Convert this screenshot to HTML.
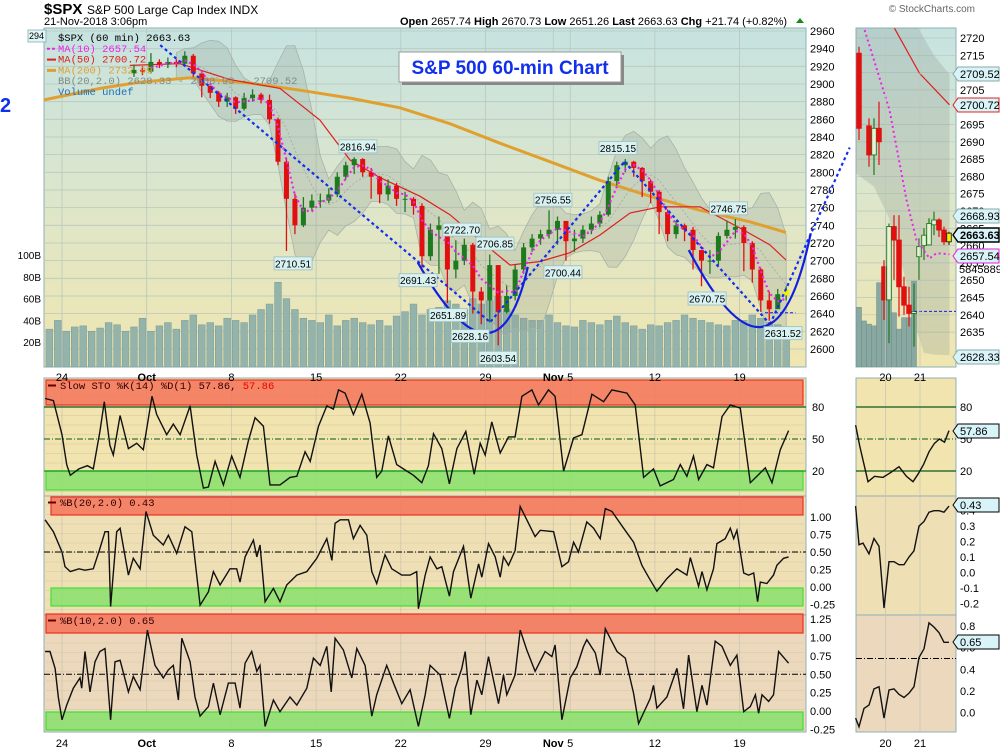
<!DOCTYPE html>
<html><head><meta charset="utf-8"><style>
html,body{margin:0;padding:0;background:#fff;}
svg{display:block;font-family:"Liberation Sans",sans-serif;}
.mono{font-family:"Liberation Mono",monospace;}
</style></head><body>
<svg id="chart" width="1000" height="750" viewBox="0 0 1000 750" xmlns="http://www.w3.org/2000/svg">
<defs>
<linearGradient id="gMain" x1="0" y1="0" x2="0" y2="1"><stop offset="0" stop-color="#c6e3e1"/><stop offset="0.55" stop-color="#dfe6c8"/><stop offset="1" stop-color="#f0e6b0"/></linearGradient>
</defs>
<g id="root"></g>
</svg>
<script>
// ---------- data ----------
const closes=[2916,2914,2925,2922,2925,2923,2932,2912,2898,2890,2880,2885,2872,2884,2888,2882,2860,2812,2770,2740,2760,2768,2768,2775,2795,2808,2815,2800,2795,2775,2785,2770,2770,2762,2705,2735,2740,2690,2700,2718,2665,2655,2695,2642,2660,2690,2715,2725,2730,2735,2745,2722,2725,2735,2742,2752,2790,2808,2812,2805,2790,2778,2755,2730,2740,2735,2712,2700,2700,2728,2735,2738,2720,2690,2655,2645,2662,2664];
const highs=[2922,2920,2935,2928,2930,2928,2937,2934,2912,2898,2892,2890,2886,2890,2894,2890,2888,2862,2815,2776,2772,2775,2776,2782,2800,2812,2817,2816,2805,2796,2792,2788,2778,2772,2765,2742,2750,2742,2723,2725,2720,2670,2707,2695,2672,2695,2720,2730,2735,2757,2750,2740,2735,2740,2750,2756,2795,2812,2815,2813,2806,2792,2780,2758,2745,2742,2738,2712,2712,2732,2745,2747,2740,2722,2692,2665,2668,2671];
const lows=[2908,2910,2912,2918,2918,2919,2922,2908,2885,2884,2874,2874,2866,2870,2880,2878,2855,2808,2711,2730,2738,2756,2760,2765,2772,2792,2798,2795,2770,2765,2768,2762,2755,2752,2692,2700,2685,2652,2680,2695,2640,2628,2630,2604,2640,2655,2685,2710,2718,2725,2718,2700,2710,2720,2730,2738,2750,2785,2800,2795,2772,2765,2730,2722,2725,2722,2690,2671,2685,2695,2725,2725,2688,2675,2642,2632,2651,2655];
const firstOpen=2912;
const candleStartDay=4;
const volumes=[32,40,30,34,35,30,33,38,36,30,34,42,30,35,38,32,40,45,36,38,35,42,40,38,45,50,55,75,60,50,42,40,38,45,35,40,42,38,36,40,35,44,48,55,45,50,52,58,55,50,60,55,58,62,50,45,42,40,40,45,38,35,34,40,38,36,40,44,38,35,32,36,35,38,40,45,42,40,38,36,35,40,40,45,42,38,36,34];
const volStartDay=-1;
const ma200Days=[-1.06,2.25,4.6,7.56,11.1,14.05,17.0,19.95,22.9,25.85,28.8,31.75,34.7,37.66,40.61,42.74];
const ma200Vals=[2882,2895,2902,2907,2901,2893,2884,2873,2855,2833,2812,2791,2773,2757,2744,2732];
const ma50Days=[4.01,6.97,9.92,12.87,15.23,17.0,18.77,21.13,22.9,24.67,26.45,28.22,29.99,31.76,33.53,35.3,37.66,40.02,41.79,42.74];
const ma50Vals=[2921,2923,2905,2895,2859,2814,2794,2773,2752,2723,2695,2699,2709,2729,2754,2761,2761,2737,2718,2700.7];
const trendLines=[[5.8,2944,25.3,2630],[25.3,2631,33.2,2812],[33.2,2812,41.8,2628],[41.8,2628,46.5,2828]];
const arcs=[[21.0,2698,24.97,2618,27.5,2693],[37.0,2712,41.3,2625,44.2,2731]];
const annoText=["2816.94","2710.51","2691.43","2651.89","2628.16","2603.54","2722.70","2706.85","2756.55","2700.44","2815.15","2746.75","2670.75","2631.52"];
const annoDay=[17.47,13.64,21.02,22.79,24.09,25.74,23.61,25.56,28.98,29.57,32.82,39.35,38.08,42.56];
const annoHigh=[1,0,0,0,0,0,1,1,1,0,1,1,0,0];
const priceTicks=[2960,2940,2920,2900,2880,2860,2840,2820,2800,2780,2760,2740,2720,2700,2680,2660,2640,2620,2600];
const volTicks=[100,80,60,40,20];
const dateDays=[0,5,10,15,20,25,29,30,35,40];
const dateText=["24","Oct","8","15","22","29","Nov","5","12","19"];
// oscillators
const stoDays=[-1.0,-0.51,0,0.28,0.49,1.0,1.5,1.85,2.24,2.5,2.83,3.03,3.43,3.92,4.41,4.8,5.31,5.59,6.18,6.57,6.97,7.56,7.95,8.35,8.64,9.04,9.53,10.02,10.51,11.0,11.4,11.89,12.28,12.87,13.46,13.86,14.35,14.65,15.14,15.63,16.02,16.32,16.71,17.2,17.7,18.19,18.58,18.88,19.27,19.76,20.35,20.75,21.24,21.63,21.93,22.42,22.87,23.31,23.84,24.33,24.69,24.98,25.37,25.87,26.36,26.75,27.15,27.74,28.13,28.72,29.11,29.61,30.2,30.69,31.28,31.97,32.46,33.35,33.84,34.33,34.92,35.31,36.1,36.5,36.89,37.28,37.58,38.07,38.46,38.96,39.45,40.04,40.63,41.02,41.52,41.91,42.4,42.89];
const stoVals=[88,86,54,26,16,22,25,22,57,85,44,35,72,41,46,40,90,73,54,64,54,81,35,4,5,29,7,34,14,48,70,62,7,7,14,15,38,29,62,81,78,96,93,73,92,65,14,20,53,26,20,16,9,25,55,41,8,41,57,17,46,35,66,37,52,52,90,96,82,96,90,20,51,54,92,85,96,93,82,14,22,6,12,26,15,34,12,26,23,71,82,79,9,15,23,9,40,57.86];
const pb20Days=[-1.0,-0.51,0,0.18,0.49,1.0,1.36,1.85,2.24,2.54,2.74,2.87,3.23,3.43,3.92,4.21,4.61,4.96,5.39,5.98,6.28,6.77,7.26,7.66,7.95,8.15,8.64,8.94,9.33,9.92,10.31,10.51,10.81,11.3,11.5,11.69,11.99,12.48,12.87,13.27,13.86,14.45,15.04,15.63,15.93,16.12,16.42,16.91,17.2,17.6,17.99,18.29,18.58,19.07,19.47,20.06,20.55,20.94,21.04,21.44,21.73,22.13,22.42,22.87,23.11,23.7,24.13,24.59,24.78,25.18,25.57,25.87,26.06,26.36,26.75,27.05,27.44,27.93,28.23,29.02,29.51,29.9,30.2,30.49,30.98,31.38,31.77,32.07,32.46,33.15,33.74,34.23,34.63,35.12,35.71,36.3,36.89,37.09,37.58,37.78,38.07,38.46,38.66,39.15,39.45,39.65,39.84,40.24,40.53,40.83,41.06,41.22,41.61,42.0,42.2,42.6,42.89];
const pb20Vals=[0.96,0.79,0.50,0.29,0.22,0.26,0.24,0.26,0.55,0.79,0.79,-0.28,0.79,0.84,0.17,0.41,0.26,1.08,0.74,0.60,0.74,0.48,0.86,0.79,0.17,-0.26,-0.07,0.22,0.03,0.26,0.26,0.07,0.43,0.67,0.43,0.60,-0.21,-0.02,-0.21,0.03,0.17,0.22,0.41,0.69,0.38,0.91,0.96,0.96,0.69,0.88,0.74,0.22,0.05,0.46,0.26,0.17,0.17,0.22,-0.31,0.17,0.43,0.26,0.29,-0.13,0.22,0.58,-0.16,0.33,0.14,0.62,0.43,0.14,0.43,0.31,0.52,1.15,0.96,0.72,0.81,0.79,0.29,0.36,0.64,0.50,0.93,0.84,0.69,1.12,1.08,0.84,0.64,0.31,0.14,-0.06,0.12,0.26,0.17,0.42,0.01,0.22,-0.04,0.26,0.62,0.69,0.84,0.69,0.81,0.20,0.17,0.20,-0.21,0.07,0.05,0.17,0.31,0.41,0.43];
const pb10Days=[-1.0,-0.71,-0.41,-0.22,0,0.28,0.67,1.06,1.16,1.36,1.65,1.95,2.24,2.54,2.87,3.13,3.43,3.92,4.21,4.61,5.04,5.49,5.98,6.28,6.57,6.87,7.07,7.56,7.85,8.15,8.64,8.94,9.33,9.82,10.22,10.51,10.81,11.2,11.5,11.69,11.99,12.48,12.87,13.46,13.86,14.45,14.84,15.24,15.63,15.89,16.12,16.61,17.11,17.4,17.89,18.29,18.58,19.17,19.57,20.06,20.55,21.04,21.44,21.73,22.32,22.87,23.21,23.6,23.8,24.13,24.49,24.78,25.18,25.77,26.06,26.26,26.75,27.05,27.44,27.93,28.52,28.92,29.11,29.51,30.0,30.39,30.79,30.98,31.48,31.77,32.07,32.76,33.25,33.74,34.04,34.72,34.92,35.12,35.71,36.3,36.69,36.99,37.48,37.78,38.07,38.56,38.96,39.45,39.84,40.24,40.63,40.93,41.12,41.32,41.71,42.0,42.3,42.89];
const pb10Vals=[0.81,0.81,0.58,0.19,-0.12,0.08,0.31,0.45,0.31,0.81,0.26,0.67,0.81,0.85,-0.12,0.67,0.69,0.26,0.47,0.29,1.10,0.62,0.45,0.56,0.62,0.15,0.99,0.67,0.19,-0.07,0.06,0.38,-0.05,0.38,0.38,0.04,0.65,0.81,0.54,0.62,-0.21,0.15,-0.01,0.19,0.08,0.31,0.72,0.62,0.88,0.26,0.99,0.83,0.45,0.85,0.62,-0.07,0.22,0.62,0.38,0.10,0.29,-0.21,0.22,0.62,0.49,-0.10,0.31,0.58,0.81,-0.05,0.42,0.22,0.74,0.10,0.49,0.22,0.49,1.10,0.83,0.54,0.81,0.74,0.90,-0.12,0.45,0.60,0.88,0.97,0.79,0.49,1.12,0.81,0.72,0.24,-0.17,0.17,0.35,0.04,0.19,0.58,0.03,0.76,-0.01,0.35,0.08,0.95,0.88,0.62,0.76,-0.01,0.06,0.22,-0.03,0.22,0.13,0.22,0.81,0.65];
const stoTicks=[80,50,20];
const pb20Ticks=[1.00,0.75,0.50,0.25,0.00,-0.25];
const pb10Ticks=[1.25,1.00,0.75,0.50,0.25,0.00,-0.25];
// inset (zoomed last sessions)
const inIdx=[0,2,3,4,5,6,7,8,9,10,11,12,13,14,15,16,17,18];
const inOpen=[2715.6,2694.6,2686.2,2693.9,2653.9,2644.3,2665.5,2661.6,2648.1,2642.8,2640.4,2656.8,2660.0,2660.2,2666.0,2667.4,2664.5,2661.1];
const inClose=[2693.9,2686.2,2693.9,2690.0,2644.3,2665.5,2661.6,2648.1,2642.8,2640.4,2641.0,2659.7,2663.0,2666.4,2667.4,2664.5,2661.1,2663.6];
const inHigh=[2717.5,2696.8,2696.8,2701.6,2655.8,2666.4,2668.8,2668.8,2651.0,2648.1,2649.1,2662.1,2665.0,2667.9,2669.8,2667.9,2665.5,2664.0];
const inLow=[2690.5,2682.8,2680.4,2683.3,2638.5,2631.8,2650.1,2639.5,2640.0,2636.6,2630.8,2650.1,2655.8,2660.2,2663.0,2662.5,2660.2,2660.2];
const inVol=[52,39.5,36.6,35,74.6,76,73,47,32,42.5,42.5,76];
const inMa10Idx=[1.13,6.1,9.5,11.5,14.1,15.5,18.1];
const inMa10Val=[2722.3,2699.2,2673.2,2661.6,2656.3,2657.8,2657.5];
const inMa50Idx=[7.1,12.1,18.1];
const inMa50Val=[2722.8,2709.8,2700.7];
const inBBIdx=[-0.7,3,6,9,11,13,15,18.1];
const inBBUp=[2730,2729,2728,2727,2725,2720,2715,2709.5];
const inBBLo=[2681,2677,2668,2652,2638,2629,2628.5,2628.3];
const inTicks=[2720,2715,2710,2705,2700,2695,2690,2685,2680,2675,2670,2665,2660,2655,2650,2645,2640,2635];
const inStoIdx=[-0.67,0.13,1.8,3.13,4.8,6.47,8,9.47,10.8,11.8,12.9,14,15.1,16.1,17.1,18];
const inStoVal=[63,44,10,15,14,19,24,15,10,17,26,38,46,50,47,57.86];
const inPb20Idx=[-0.67,0,0.8,2,3,4,5,6,7,8,9,10,11,12,13,14,15,16,17,18];
const inPb20Val=[0.43,0.18,0.19,0.12,0.22,0.17,-0.23,0.07,0.07,0.05,0.05,0.10,0.14,0.30,0.33,0.39,0.40,0.40,0.39,0.43];
const inPb10Idx=[-0.67,0,1,2,3,4,5,6,7,8,9,10,11,12,13,14,15,16,17,18];
const inPb10Val=[-0.05,-0.13,0.04,0.07,0.22,0.24,-0.05,0.21,0.22,0.17,0.14,0.18,0.24,0.51,0.59,0.83,0.79,0.74,0.65,0.65];
const inPb20Ticks=[0.4,0.3,0.2,0.1,0.0,-0.1,-0.2];
const inPb10Ticks=[0.8,0.6,0.4,0.2,0.0];

// ---------- scales ----------
const NS="http://www.w3.org/2000/svg";
const root=document.getElementById('root');
const MX0=44,MX1=806,MY0=28,MY1=367;
const IX0=856,IX1=956;
const xD=t=>62+t*16.94;
const yP=p=>31+(2960-p)*0.8833;
const yV=v=>364-v*1.09;
const ySto=v=>407+(80-v)*1.0667;
const yB20=v=>587-v*70;
const yB10=v=>711-v*73.5;
const xI=i=>859+i*5;
const yIP=p=>38+(2720-p)*3.46;
const yIB20=v=>510.7+(0.4-v)*154.4;
const yIB10=v=>712.7-v*108.3;

function el(tag,attrs,parent){const e=document.createElementNS(NS,tag);for(const k in attrs)e.setAttribute(k,attrs[k]);(parent||root).appendChild(e);return e;}
function txt(x,y,s,attrs,parent){const e=el('text',Object.assign({x:x,y:y},attrs||{}),parent);e.textContent=s;return e;}
function poly(xs,ys,attrs,parent){let d='';for(let i=0;i<xs.length;i++)d+=(i?'L':'M')+xs[i].toFixed(1)+' '+ys[i].toFixed(1);return el('path',Object.assign({d:d,fill:'none'},attrs),parent);}

// ---------- header ----------
let g=el('g',{});


let t=txt(44,14,'$SPX',{'font-size':'15','font-weight':'bold'},g);

t=txt(87,14,'S&P 500 Large Cap Index  INDX',{'font-size':'12'},g);

t=txt(44,25,'21-Nov-2018 3:06pm',{'font-size':'11'},g);

t=txt(975,12,'© StockCharts.com',{'font-size':'10','fill':'#666','text-anchor':'end'},g);

t=el('text',{x:400,y:25,'font-size':'11'},g);

t.innerHTML='<tspan font-weight="bold">Open</tspan> 2657.74 <tspan font-weight="bold">High</tspan> 2670.73 <tspan font-weight="bold">Low</tspan> 2651.26 <tspan font-weight="bold">Last</tspan> 2663.63 <tspan font-weight="bold">Chg</tspan> +21.74 (+0.82%)';
el('path',{d:'M796 23 L800 18 L804 23 Z',fill:'#1a8a1a'},g);

// ---------- main panel ----------
const main=el('g',{});


el('rect',{x:MX0,y:MY0,width:MX1-MX0,height:MY1-MY0,fill:'url(#gMain)',stroke:'#8fb0b8'},main);
priceTicks.forEach(p=>{el('line',{x1:MX0,x2:MX1,y1:yP(p),y2:yP(p),stroke:'#b9c7bd','stroke-width':0.8},main);
 const tk=txt(810,yP(p)+4,String(p),{'font-size':'11'},main);
 });
dateDays.forEach(d=>el('line',{x1:xD(d),x2:xD(d),y1:MY0,y2:MY1,stroke:'#b9c7bd','stroke-width':0.8},main));
volTicks.forEach(v=>{const tk=txt(41,yV(v)+4,v+'B',{'font-size':'10','text-anchor':'end'});
 });
// volume
volumes.forEach((v,i)=>{const x=xD(volStartDay+i*0.5+0.25);
 const b=el('rect',{x:x-3.4,y:yV(v),width:6.8,height:MY1-yV(v),fill:'#93b3ab',stroke:'#7a9c94','stroke-width':0.5},main);
 });
// bollinger from closes
const bbT=[],bbU=[],bbL=[],bbM=[];
for(let i=5;i<closes.length;i++){const w=closes.slice(i-5,i+1);const m=w.reduce((a,b)=>a+b,0)/6;const s=Math.sqrt(w.reduce((a,b)=>a+(b-m)*(b-m),0)/6);
 bbT.push(candleStartDay+i*0.5+0.25);bbU.push(m+2*s+6);bbL.push(m-2*s-6);bbM.push(m);}
let dd='';bbT.forEach((tt,i)=>dd+=(i?'L':'M')+xD(tt).toFixed(1)+' '+yP(bbU[i]).toFixed(1));
for(let i=bbT.length-1;i>=0;i--)dd+='L'+xD(bbT[i]).toFixed(1)+' '+yP(bbL[i]).toFixed(1);
let bb=el('path',{d:dd+'Z',fill:'#8c9c94','fill-opacity':0.25,stroke:'#a8b2aa','stroke-width':0.8},main);

poly(bbT.map(xD),bbM.map(yP),{stroke:'#a0a8a0','stroke-width':0.8,'stroke-dasharray':'2 2'},main);
// ma200, ma50
let m2=poly(ma200Days.map(xD),ma200Vals.map(yP),{stroke:'#e0a030','stroke-width':3},main);

let m5=poly(ma50Days.map(xD),ma50Vals.map(yP),{stroke:'#dd2020','stroke-width':1.2},main);

// candles
closes.forEach((c,i)=>{const o=i?closes[i-1]:firstOpen;const x=xD(candleStartDay+i*0.5+0.25);const up=c>=o;const col=up?'#1e7a1e':'#e01010';
 const hi=highs[i]!==undefined?highs[i]:Math.max(o,c),lo=lows[i]!==undefined?lows[i]:Math.min(o,c);
 const cg=el('g',{},main);
 
 el('line',{x1:x,x2:x,y1:yP(hi),y2:yP(lo),stroke:col,'stroke-width':1.3},cg);
 const y1=yP(Math.max(o,c)),y2=yP(Math.min(o,c));
 el('rect',{x:x-2.5,y:y1,width:5,height:Math.max(1,y2-y1),fill:col},cg);});
// ma10 from closes (3 half-day window)
const maT=[],maV=[];for(let i=2;i<closes.length;i++){maT.push(candleStartDay+i*0.5+0.25);maV.push((closes[i]+closes[i-1]+closes[i-2])/3);}
let m1=poly(maT.map(xD),maV.map(yP),{stroke:'#ee22ee','stroke-width':2.2,'stroke-dasharray':'2 3'},main);

// trend lines
trendLines.forEach(l=>{const tl=el('line',{x1:xD(l[0]),y1:yP(l[1]),x2:xD(l[2]),y2:yP(l[3]),stroke:'#1030ee','stroke-width':2.2,'stroke-dasharray':'3 3'});
 });
arcs.forEach(a=>{const x0=xD(a[0]),y0=yP(a[1]),xm=xD(a[2]),ym=yP(a[3]),x2=xD(a[4]),y2=yP(a[5]);
 const cx=2*xm-(x0+x2)/2,cy=2*ym-(y0+y2)/2;
 const ap=el('path',{d:`M${x0} ${y0} Q${cx} ${cy} ${x2} ${y2}`,fill:'none',stroke:'#1020e0','stroke-width':2.2});
 });
el('line',{x1:xD(41.5),x2:xD(43.3),y1:yP(2641),y2:yP(2641),stroke:'#1020e0','stroke-width':1,'stroke-dasharray':'3 2'},main);
// annotations
annoText.forEach((s,i)=>{const p=parseFloat(s);const x=xD(annoDay[i]);const y=annoHigh[i]?yP(p)-11:yP(p)+12;
 const ag=el('g',{});
 el('rect',{x:x-19,y:y-6.5,width:38,height:13,fill:'#d8f2f2',stroke:'#9cbcc0','stroke-width':0.8},ag);
 txt(x,y+4,s,{'font-size':'10','text-anchor':'middle'},ag);});
// last price marker
el('rect',{x:xD(42.75)-3,y:yP(2664)-3,width:6,height:6,fill:'#f4f000'},main);
// legend
const lg=el('g',{class:'mono','font-size':'10.5'});

const legItems=[['$SPX (60 min) 2663.63','#000',null],['MA(10) 2657.54','#ee22ee','dash'],['MA(50) 2700.72','#dd2020','solid'],['MA(200) 2732.09','#e0a030','thick'],['BB(20,2.0) 2628.33 - 2668.93 - 2709.52','#7f8c88',null],['Volume undef','#1a70c0',null]];
legItems.forEach((it,i)=>{const y=38+i*10.8;
 const le=txt(58,y+3,it[0],{fill:it[1]},lg);
 if(it[2])el('line',{x1:47,x2:56,y1:y,y2:y,stroke:it[1],'stroke-width':it[2]=='thick'?3:2,'stroke-dasharray':it[2]=='dash'?'3 2':'none'},lg);});
el('rect',{x:28,y:30,width:18,height:12,fill:'#e0f6f6',stroke:'#8aaab0','stroke-width':0.8});
txt(29,39,'294',{'font-size':'9'});
t=txt(0,112,'2',{'font-size':'20','font-weight':'bold',fill:'#1030ee'});

// title box
const tb=el('g',{});
el('rect',{x:402,y:55,width:222,height:30,fill:'#888'},tb);
el('rect',{x:399,y:52,width:222,height:30,fill:'#fff',stroke:'#999'},tb);
txt(510,74,'S&P 500 60-min Chart',{'font-size':'19','font-weight':'bold',fill:'#1030ee','text-anchor':'middle'},tb);

// ---------- oscillator panels ----------
const panels=[
 {y0:378,y1:496,bg:'#f1e4ae',red:[380,405],green:[471,490],gx:46,name:'slow-sto-panel'},
 {y0:496,y1:615,bg:'#efdfb5',red:[497,515],green:[588,606],gx:51,name:'pctb20-panel'},
 {y0:615,y1:732,bg:'#ecd8bc',red:[614,633],green:[712,730],gx:46,name:'pctb10-panel'}];
panels.forEach(p=>{const pg=el('g',{});
 el('rect',{x:MX0,y:p.y0,width:MX1-MX0,height:p.y1-p.y0,fill:p.bg,stroke:'#8fb0b8'},pg);
 for(let y=p.y0+9;y<p.y1;y+=9.5)el('line',{x1:MX0,x2:MX1,y1:y,y2:y,stroke:'#dccfa8','stroke-width':0.7},pg);
 dateDays.forEach(d=>el('line',{x1:xD(d),x2:xD(d),y1:p.y0,y2:p.y1,stroke:'#c8c4b0','stroke-width':0.7},pg));
 el('rect',{x:p.gx,y:p.red[0],width:803-p.gx,height:p.red[1]-p.red[0],fill:'#f47a5e','fill-opacity':0.9,stroke:'#f03020','stroke-width':1.2},pg);
 el('rect',{x:p.gx,y:p.green[0],width:803-p.gx,height:p.green[1]-p.green[0],fill:'#8ee070','fill-opacity':0.9,stroke:'#40e030','stroke-width':1.2},pg);
 el('rect',{x:IX0,y:p.y0,width:IX1-IX0,height:p.y1-p.y0,fill:p.bg,stroke:'#8fb0b8'},pg);});
// sto refs
el('line',{x1:MX0,x2:MX1,y1:ySto(80),y2:ySto(80),stroke:'#0a5a1a','stroke-width':1.2});
el('line',{x1:MX0,x2:MX1,y1:ySto(20),y2:ySto(20),stroke:'#0a9a1a','stroke-width':1.2});
el('line',{x1:MX0,x2:MX1,y1:ySto(50),y2:ySto(50),stroke:'#0a5a1a','stroke-dasharray':'6 2 1 2'});
el('line',{x1:MX0,x2:MX1,y1:yB20(0.5),y2:yB20(0.5),stroke:'#000','stroke-dasharray':'6 2 1 2'});
el('line',{x1:MX0,x2:MX1,y1:yB10(0.5),y2:yB10(0.5),stroke:'#000','stroke-dasharray':'6 2 1 2'});
stoTicks.forEach(v=>{const k=txt(812,ySto(v)+4,String(v),{'font-size':'11'});});
pb20Ticks.forEach(v=>{const k=txt(810,yB20(v)+4,v.toFixed(2),{'font-size':'11'});});
pb10Ticks.forEach(v=>{const k=txt(810,yB10(v)+4,v.toFixed(2),{'font-size':'11'});});
let s1=poly(stoDays.map(xD),stoVals.map(ySto),{stroke:'#111','stroke-width':1.4});

let s2=poly(pb20Days.map(xD),pb20Vals.map(yB20),{stroke:'#111','stroke-width':1.4});

let s3=poly(pb10Days.map(xD),pb10Vals.map(yB10),{stroke:'#111','stroke-width':1.4});

[[389,'Slow STO %K(14) %D(1) 57.86, ','57.86'],[506,'%B(20,2.0) 0.43',''],[624,'%B(10,2.0) 0.65','']].forEach(a=>{
 el('line',{x1:48,x2:56,y1:a[0]-3.5,y2:a[0]-3.5,stroke:'#600','stroke-width':2});
 const e=el('text',{x:60,y:a[0],'font-size':'10.5',class:'mono',fill:'#300'});
 
 e.innerHTML=a[1]+(a[2]?'<tspan fill="#e00">'+a[2]+'</tspan>':'');});
// date labels
dateDays.forEach((d,i)=>{[381,747].forEach(y=>{const k=txt(xD(d),y,dateText[i],{'font-size':'11','text-anchor':'middle','font-weight':(dateText[i]=='Oct'||dateText[i]=='Nov')?'bold':'normal'});
 });});

// ---------- inset ----------
const ins=el('g',{});
el('rect',{x:IX0,y:MY0,width:IX1-IX0,height:MY1-MY0,fill:'url(#gMain)',stroke:'#8fb0b8'},ins);
const cp=el('clipPath',{id:'clipIn'});el('rect',{x:IX0,y:MY0,width:IX1-IX0,height:MY1-MY0},cp);
const ic=el('g',{'clip-path':'url(#clipIn)'},ins);
inTicks.forEach(p=>{el('line',{x1:IX0,x2:IX1,y1:yIP(p),y2:yIP(p),stroke:'#b9c7bd','stroke-width':0.7},ic);
 const k=txt(960,yIP(p)+4,String(p),{'font-size':'11'});});
[5.3,12.2].forEach(i=>{[MY0,378,496,615].forEach((y0,j)=>el('line',{x1:xI(i),x2:xI(i),y1:y0,y2:[MY1,496,615,732][j],stroke:'#c0c4b8','stroke-width':0.7}));});
let ibd='';inBBIdx.forEach((v,i)=>ibd+=(i?'L':'M')+xI(v)+' '+yIP(inBBUp[i]));for(let i=inBBIdx.length-1;i>=0;i--)ibd+='L'+xI(inBBIdx[i])+' '+yIP(inBBLo[i]);
el('path',{d:ibd+'Z',fill:'#8c9c94','fill-opacity':0.28},ic);
inVol.forEach((v,i)=>{const b=el('rect',{x:xI(i)-2.5,y:yV(v),width:5,height:MY1-yV(v),fill:'#8aa8a2',stroke:'#6f8f88','stroke-width':0.5},ic);
 });
poly(inMa50Idx.map(xI),inMa50Val.map(yIP),{stroke:'#dd2020','stroke-width':1.2},ic);
inIdx.forEach((ix,i)=>{const o=inOpen[i],c=inClose[i];const x=xI(ix);const up=c>=o;const col=i==inIdx.length-1?'#222':(up?'#1e7a1e':'#e01010');
 const cg=el('g',{},ic);
 el('line',{x1:x,x2:x,y1:yIP(inHigh[i]),y2:yIP(inLow[i]),stroke:col,'stroke-width':1.2},cg);
 const y1=yIP(Math.max(o,c)),y2=yIP(Math.min(o,c));
 el('rect',{x:x-2.3,y:y1,width:4.6,height:Math.max(1,y2-y1),fill:i==inIdx.length-1?'#f4f000':(up?'#e8f0d8':col),stroke:col,'stroke-width':0.9},cg);});
poly(inMa10Idx.map(xI),inMa10Val.map(yIP),{stroke:'#ee22ee','stroke-width':2,'stroke-dasharray':'2 3'},ic);
el('line',{x1:xI(11),x2:IX1,y1:yIP(2641),y2:yIP(2641),stroke:'#1020e0','stroke-dasharray':'3 2'},ic);
// inset oscillators
el('line',{x1:IX0,x2:IX1,y1:ySto(80),y2:ySto(80),stroke:'#0a5a1a','stroke-width':1.2});
el('line',{x1:IX0,x2:IX1,y1:ySto(20),y2:ySto(20),stroke:'#0a5a1a','stroke-width':1.2});
el('line',{x1:IX0,x2:IX1,y1:ySto(50),y2:ySto(50),stroke:'#0a5a1a','stroke-dasharray':'6 2 1 2'});
el('line',{x1:IX0,x2:IX1,y1:yIB10(0.5),y2:yIB10(0.5),stroke:'#000','stroke-dasharray':'6 2 1 2'});
stoTicks.forEach(v=>txt(960,ySto(v)+4,String(v),{'font-size':'11'}));
inPb20Ticks.forEach(v=>txt(960,yIB20(v)+4,v.toFixed(1),{'font-size':'11'}));
inPb10Ticks.forEach(v=>txt(960,yIB10(v)+4,v.toFixed(1),{'font-size':'11'}));
let is1=poly(inStoIdx.map(xI),inStoVal.map(ySto),{stroke:'#111','stroke-width':1.4});

let is2=poly(inPb20Idx.map(xI),inPb20Val.map(yIB20),{stroke:'#111','stroke-width':1.4});

let is3=poly(inPb10Idx.map(xI),inPb10Val.map(yIB10),{stroke:'#111','stroke-width':1.4});

[['20',5.3],['21',12.2]].forEach(a=>{[381,747].forEach(y=>txt(xI(a[1]),y,a[0],{'font-size':'11','text-anchor':'middle'}));});
// value tags
function tag(y,s,border,bold){const tg=el('g',{});
 el('path',{d:`M953 ${y} L958 ${y-7} L999 ${y-7} L999 ${y+7} L958 ${y+7} Z`,fill:'#d8f4f8',stroke:border,'stroke-width':bold?1.4:1},tg);
 txt(960,y+4,s,{'font-size':'11','font-weight':bold?'bold':'normal'},tg);}
tag(74,'2709.52','#8aa');tag(105,'2700.72','#e02020');tag(216,'2668.93','#8aa');tag(235,'2663.63','#000',true);tag(256,'2657.54','#e020e0');
txt(959,273,'5845889',{'font-size':'11'});
tag(357,'2628.33','#8aa');tag(431,'57.86','#000');tag(505,'0.43','#000');tag(642,'0.65','#000');
</script>
</body></html>
